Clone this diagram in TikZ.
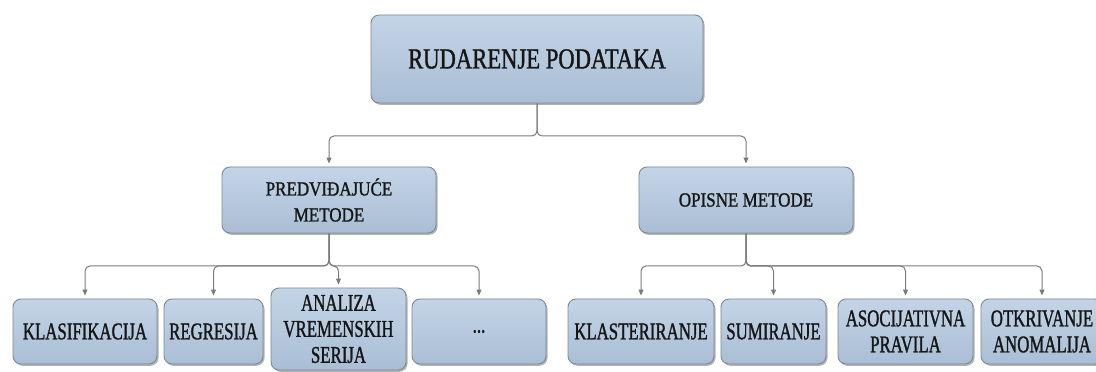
\documentclass[tikz,border=0pt]{standalone}
\usepackage{fontspec}
\setmainfont{Liberation Serif}
\newfontfamily\topfnt{Liberation Serif}[FakeStretch=0.78,FakeBold=1.2]
\newfontfamily\midfnt{Liberation Serif}[FakeStretch=0.85,FakeBold=1.2]
\newfontfamily\botfnt{Liberation Serif}[FakeStretch=0.70,FakeBold=1.2]
\usetikzlibrary{arrows.meta,shadows}
\definecolor{boxtop}{HTML}{C3D4E6}
\definecolor{boxbot}{HTML}{A9BED5}
\definecolor{boxline}{HTML}{7D8894}
\definecolor{connline}{HTML}{7A7A7A}
\definecolor{txt}{HTML}{161616}
\tikzset{
  box/.style={draw=boxline, line width=0.9pt, rounded corners=8pt,
    top color=boxtop, bottom color=boxbot, inner sep=0pt, align=center,
    text=txt, font=\botfnt\fontsize{24}{26}\selectfont,
    drop shadow={shadow xshift=1.5pt, shadow yshift=-1.8pt, opacity=0.3, fill=black}},
  midbox/.style={box, font=\midfnt\fontsize{20}{26}\selectfont},
  bigbox/.style={box, font=\topfnt\fontsize{29}{32}\selectfont},
  conn/.style={draw=connline, line width=1pt, rounded corners=5pt,
    -{Triangle[length=6pt,width=5pt]}, shorten >=3pt}
}
\begin{document}
\begin{tikzpicture}[x=1pt,y=1pt]
\useasboundingbox (0,0) rectangle (1096,372);
\begin{scope}
\clip (0,0) rectangle (1096,372);
\node[bigbox, minimum width=332pt, minimum height=88pt] (top) at (537,313) {RUDARENJE PODATAKA};
\node[midbox, minimum width=214pt, minimum height=66pt] (pred) at (329,172) {PREDVIĐAJUĆE\\METODE};
\node[midbox, minimum width=214pt, minimum height=66pt] (opis) at (746,172) {OPISNE METODE};
\node[box, minimum width=144pt, minimum height=65pt] (klas) at (85,40.5) {KLASIFIKACIJA};
\node[box, minimum width=99pt, minimum height=65pt] (regr) at (213.5,40.5) {REGRESIJA};
\node[box, minimum width=135pt, minimum height=82pt] (anal) at (338.5,43) {ANALIZA\\VREMENSKIH\\SERIJA};
\node[box, minimum width=134pt, minimum height=65pt] (dots) at (479,40.5) {...};
\node[box, minimum width=146pt, minimum height=65pt] (klast) at (641,40.5) {KLASTERIRANJE};
\node[box, minimum width=105pt, minimum height=65pt] (sum) at (773.5,40.5) {SUMIRANJE};
\node[box, minimum width=135pt, minimum height=65pt] (asoc) at (905.5,40.5) {ASOCIJATIVNA\\PRAVILA};
\node[box, minimum width=122pt, minimum height=65pt] (otkr) at (1042,40.5) {OTKRIVANJE\\ANOMALIJA};
\coordinate (j0) at (537,236);
\coordinate (j1) at (329,106);
\coordinate (j2) at (746,106);
\foreach \c in {pred,opis} \draw[conn] (top.south) -- (top.south |- j0) -| (\c.north);
\foreach \c in {klas,regr,anal,dots} \draw[conn] (pred.south) -- (pred.south |- j1) -| (\c.north);
\foreach \c in {klast,sum,asoc,otkr} \draw[conn] (opis.south) -- (opis.south |- j2) -| (\c.north);
\end{scope}
\end{tikzpicture}
\end{document}
